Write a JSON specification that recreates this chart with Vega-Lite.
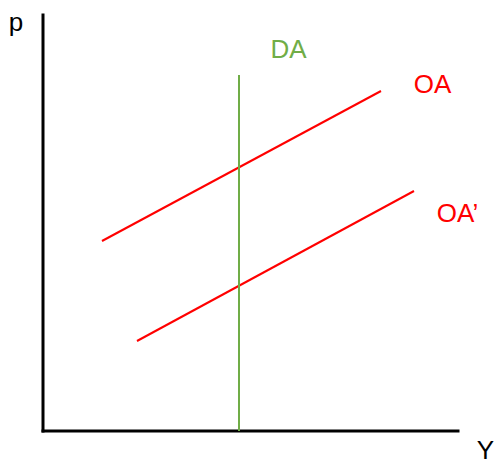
{
  "$schema": "https://vega.github.io/schema/vega-lite/v6.json",
  "width": 496,
  "height": 466,
  "autosize": "none",
  "padding": 0,
  "background": "white",
  "config": {"view": {"stroke": null}},
  "datasets": {
    "lines": [
      {"series": "axisY", "x": 0, "y": 0},
      {"series": "axisY", "x": 0, "y": 416},
      {"series": "axisX", "x": 0, "y": 0},
      {"series": "axisX", "x": 415, "y": 0},
      {"series": "OA", "x": 59, "y": 190},
      {"series": "OA", "x": 338, "y": 340},
      {"series": "OA'", "x": 94, "y": 90},
      {"series": "OA'", "x": 371, "y": 240},
      {"series": "DA", "x": 196, "y": 0},
      {"series": "DA", "x": 196, "y": 356}
    ],
    "labels": [
      {"label": "p", "x": -27, "y": 400, "kind": "axis"},
      {"label": "Y", "x": 442.5, "y": -28, "kind": "axis"},
      {"label": "DA", "x": 245.5, "y": 373, "kind": "DA"},
      {"label": "OA", "x": 389.5, "y": 338, "kind": "OA"},
      {"label": "OA’", "x": 414.5, "y": 209, "kind": "OA"}
    ]
  },
  "layer": [
    {
      "data": {"name": "lines"},
      "transform": [{"filter": "datum.series === 'axisX' || datum.series === 'axisY'"}],
      "mark": {"type": "line", "color": "black", "strokeWidth": 3, "strokeCap": "square"},
      "encoding": {
        "x": {"field": "x", "type": "quantitative", "scale": {"domain": [-43, 453], "nice": false, "zero": false}, "axis": null},
        "y": {"field": "y", "type": "quantitative", "scale": {"domain": [-35, 431], "nice": false, "zero": false}, "axis": null},
        "detail": {"field": "series"}
      }
    },
    {
      "data": {"name": "lines"},
      "transform": [{"filter": "datum.series !== 'axisX' && datum.series !== 'axisY'"}],
      "mark": {"type": "line", "strokeWidth": 2},
      "encoding": {
        "x": {"field": "x", "type": "quantitative", "scale": {"domain": [-43, 453], "nice": false, "zero": false}, "axis": null},
        "y": {"field": "y", "type": "quantitative", "scale": {"domain": [-35, 431], "nice": false, "zero": false}, "axis": null},
        "color": {"field": "series", "type": "nominal", "scale": {"domain": ["OA", "OA'", "DA"], "range": ["#FF0000", "#FF0000", "#70AD47"]}, "legend": null},
        "detail": {"field": "series"}
      }
    },
    {
      "data": {"name": "labels"},
      "mark": {"type": "text", "align": "center", "baseline": "alphabetic", "font": "Liberation Sans", "fontSize": 26},
      "encoding": {
        "x": {"field": "x", "type": "quantitative", "scale": {"domain": [-43, 453], "nice": false, "zero": false}, "axis": null},
        "y": {"field": "y", "type": "quantitative", "scale": {"domain": [-35, 431], "nice": false, "zero": false}, "axis": null},
        "text": {"field": "label"},
        "color": {"field": "kind", "type": "nominal", "scale": {"domain": ["axis", "DA", "OA"], "range": ["#000000", "#70AD47", "#FF0000"]}, "legend": null}
      }
    }
  ],
  "resolve": {"scale": {"color": "independent"}}
}
